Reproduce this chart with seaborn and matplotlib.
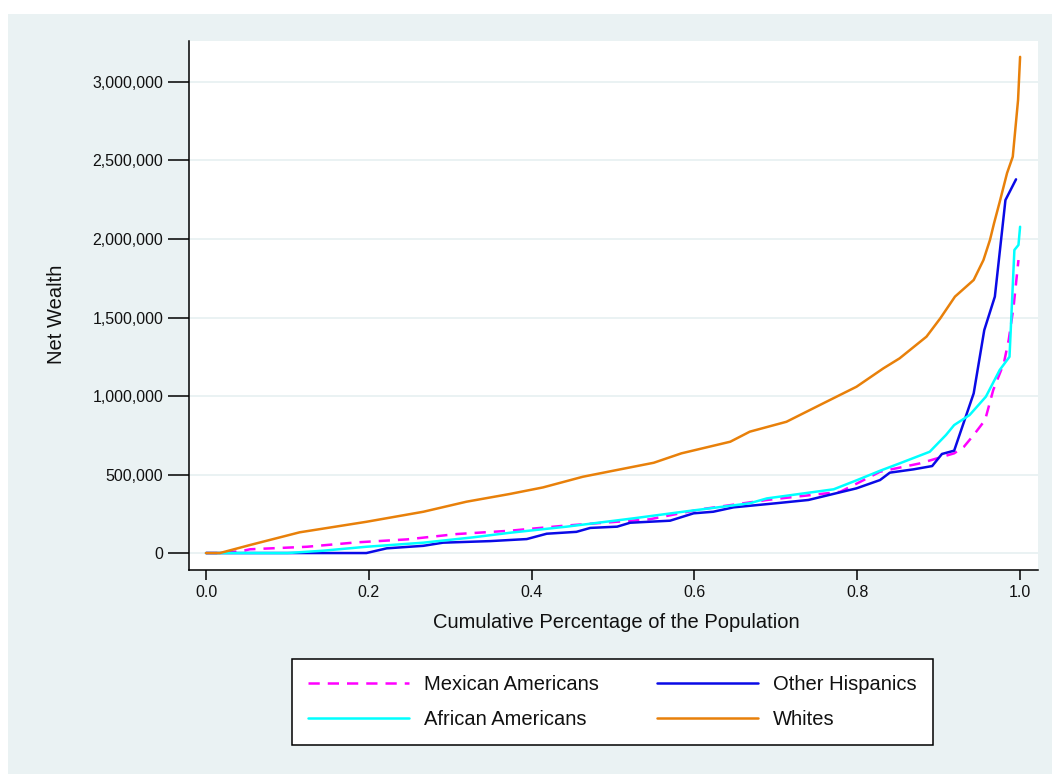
import matplotlib
matplotlib.use("Agg")
import matplotlib.pyplot as plt
import matplotlib.patches as mpatches
import matplotlib.ticker as mticker
import seaborn as sns
import pandas as pd

# ---- data (cumulative population share, net wealth) ----
mex_p = [0, 0.02, 0.046, 0.054, 0.124, 0.185, 0.247, 0.308, 0.373, 0.44, 0.545, 0.607,
         0.689, 0.779, 0.8, 0.828, 0.877, 0.919, 0.931, 0.943, 0.957, 0.967, 0.98, 0.986,
         0.992, 0.998]
mex_w = [0, 0, 15e3, 24e3, 40e3, 68e3, 87e3, 121e3, 142e3, 174e3, 215e3, 278e3,
         338e3, 390e3, 444e3, 518e3, 571e3, 635e3, 677e3, 752e3, 847e3, 1038e3, 1208e3, 1357e3,
         1569e3, 1866e3]

oth_p = [0, 0.197, 0.222, 0.267, 0.291, 0.349, 0.394, 0.4185, 0.455, 0.472, 0.505, 0.521,
         0.57, 0.599, 0.623, 0.648, 0.7, 0.74, 0.799, 0.828, 0.84, 0.869, 0.892, 0.904,
         0.919, 0.943, 0.956, 0.969, 0.982, 0.995]
oth_w = [0, 0, 30e3, 46e3, 66e3, 76e3, 89e3, 123e3, 135e3, 160e3, 168e3, 193e3,
         206e3, 253e3, 263e3, 291e3, 317e3, 338e3, 412e3, 465e3, 512e3, 533e3, 554e3, 631e3,
         652e3, 1017e3, 1420e3, 1633e3, 2248e3, 2380e3]

afr_p = [0, 0.1, 0.144, 0.197, 0.267, 0.328, 0.373, 0.443, 0.525, 0.586, 0.668, 0.689,
         0.771, 0.8, 0.828, 0.852, 0.889, 0.909, 0.919, 0.938, 0.958, 0.975, 0.987, 0.993,
         0.998, 1.0]
afr_w = [0, 0, 15e3, 40e3, 66e3, 100e3, 129e3, 168e3, 221e3, 263e3, 317e3, 348e3,
         406e3, 465e3, 524e3, 571e3, 645e3, 752e3, 815e3, 879e3, 996e3, 1166e3, 1250e3, 1930e3,
         1962e3, 2078e3]

wht_p = [0, 0.017, 0.054, 0.115, 0.197, 0.267, 0.32, 0.373, 0.414, 0.463, 0.5, 0.55,
         0.584, 0.644, 0.668, 0.713, 0.758, 0.799, 0.832, 0.852, 0.885, 0.902, 0.920, 0.943,
         0.955, 0.963, 0.968, 0.975, 0.984, 0.991, 0.9975, 1.0]
wht_w = [0, 0, 51e3, 132e3, 199e3, 263e3, 327e3, 376e3, 418e3, 486e3, 524e3, 575e3,
         635e3, 709e3, 773e3, 836e3, 953e3, 1059e3, 1176e3, 1240e3, 1378e3, 1495e3, 1633e3, 1739e3,
         1866e3, 1994e3, 2100e3, 2237e3, 2420e3, 2524e3, 2885e3, 3160e3]

groups = ["Mexican Americans", "Other Hispanics", "African Americans", "Whites"]
y_ticks = [0, 500000, 1000000, 1500000, 2000000, 2500000, 3000000]
x_ticks = [0.0, 0.2, 0.4, 0.6, 0.8, 1.0]
x_title = "Cumulative Percentage of the Population"
y_title = "Net Wealth"

series = {
    "Mexican Americans": (mex_p, mex_w),
    "Other Hispanics": (oth_p, oth_w),
    "African Americans": (afr_p, afr_w),
    "Whites": (wht_p, wht_w),
}
colors = {"Mexican Americans": "#FF00FF", "Other Hispanics": "#0A0AE6",
          "African Americans": "#00FFFF", "Whites": "#E8800A"}
styles = {"Mexican Americans": (0, (4.5, 3.2)), "Other Hispanics": "-",
          "African Americans": "-", "Whites": "-"}

sns.set_theme(style="white")
plt.rcParams["font.family"] = ["Liberation Sans", "DejaVu Sans"]

W, H = 1052, 774
fig = plt.figure(figsize=(W / 100, H / 100), dpi=100)
fig.patch.set_facecolor("white")
bg = "#EAF2F3"
fig.add_artist(mpatches.Rectangle((8 / W, 0), (W - 8) / W, (H - 14) / H,
                                  transform=fig.transFigure, facecolor=bg,
                                  edgecolor="none", zorder=-10))

L, R, T, B = 189, 1038, 41, 570
ax = fig.add_axes([L / W, (H - B) / H, (R - L) / W, (B - T) / H])
ax.set_facecolor("white")

handles = {}
for g in groups:
    p, w = series[g]
    df = pd.DataFrame({"p": p, "w": w})
    sns.lineplot(data=df, x="p", y="w", ax=ax, color=colors[g], linewidth=1.8,
                 estimator=None, sort=False, label=g)
    ln = ax.get_lines()[-1]
    ln.set_linestyle(styles[g])
    handles[g] = ln

ax.set_xlim(-0.0209, 1.022)
ax.set_ylim(-108000, 3261000)
ax.set_xticks(x_ticks)
ax.set_yticks(y_ticks)
ax.xaxis.set_major_formatter(mticker.FormatStrFormatter("%.1f"))
ax.yaxis.set_major_formatter(mticker.FuncFormatter(lambda v, _: f"{int(v):,}"))
ax.grid(axis="y", color=bg, linewidth=1.4)
ax.grid(axis="x", visible=False)
ax.set_axisbelow(True)

for s in ["top", "right"]:
    ax.spines[s].set_visible(False)
for s in ["left", "bottom"]:
    ax.spines[s].set_color("black")
    ax.spines[s].set_linewidth(1.1)

ax.tick_params(axis="y", direction="out", length=15, width=1.1, color="black",
               pad=3.5, labelsize=11.5, labelcolor="#111111", left=True)
ax.tick_params(axis="x", direction="out", length=7, width=1.1, color="black",
               pad=3.5, labelsize=11.5, labelcolor="#111111", bottom=True)

ax.set_xlabel(x_title, fontsize=14.5, color="#111111", va="center")
ax.xaxis.set_label_coords((616 - L) / (R - L), (B - 622) / (B - T))
ax.set_ylabel(y_title, fontsize=14.5, color="#111111", va="center")
ax.yaxis.set_label_coords((56 - L) / (R - L), (B - 314) / (B - T))

order = ["Mexican Americans", "African Americans", "Other Hispanics", "Whites"]
leg = fig.legend([handles[g] for g in order], order, ncol=2, loc="upper left",
                 bbox_to_anchor=(292 / W, (H - 746) / H, (933 - 292) / W, 87 / H),
                 bbox_transform=fig.transFigure, mode="expand", borderaxespad=0,
                 fontsize=14.5, handlelength=5.0, handletextpad=0.75,
                 labelspacing=0.8, borderpad=0.8, frameon=True, fancybox=False,
                 framealpha=1.0)
leg.get_frame().set_edgecolor("black")
leg.get_frame().set_linewidth(1.1)
leg.get_frame().set_facecolor("white")
for t in leg.get_texts():
    t.set_color("#111111")
if ax.get_legend() is not None:
    ax.get_legend().remove()

fig.savefig("out.png", dpi=100, facecolor=fig.get_facecolor())
